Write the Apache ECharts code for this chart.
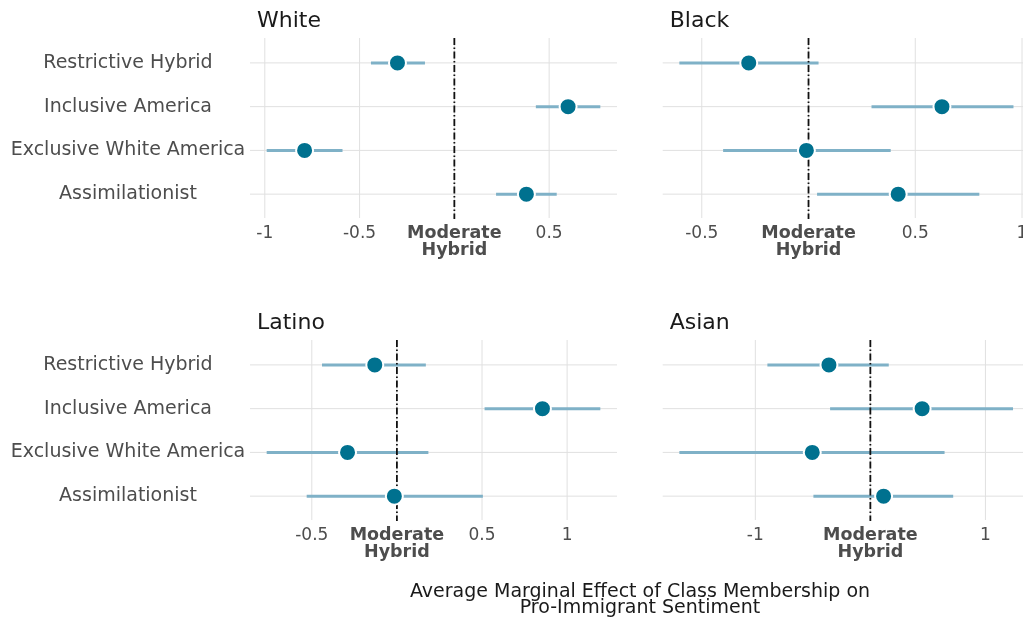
<!DOCTYPE html>
<html>
<head>
<meta charset="utf-8">
<script src="https://cdn.jsdelivr.net/npm/echarts@6/dist/echarts.min.js"></script>
<style>
  html, body { margin: 0; padding: 0; background: #ffffff; }
  #chart { width: 1023px; height: 621px; }
</style>
</head>
<body>
<div id="chart"></div>
<script>
// Class categories, listed bottom to top
const categories = ['Assimilationist', 'Exclusive White America', 'Inclusive America', 'Restrictive Hybrid'];

// Average marginal effects and confidence bounds, in category order
const whiteEst = [0.38, -0.79, 0.60, -0.30];
const whiteLo  = [0.22, -0.99, 0.43, -0.44];
const whiteHi  = [0.54, -0.59, 0.77, -0.155];

const blackEst = [0.42, -0.01, 0.625, -0.28];
const blackLo  = [0.04, -0.40, 0.295, -0.605];
const blackHi  = [0.80, 0.385, 0.96, 0.047];

const latinoEst = [-0.015, -0.29, 0.855, -0.13];
const latinoLo  = [-0.53, -0.765, 0.515, -0.44];
const latinoHi  = [0.505, 0.185, 1.195, 0.17];

const asianEst = [0.115, -0.505, 0.45, -0.36];
const asianLo  = [-0.495, -1.66, -0.35, -0.895];
const asianHi  = [0.72, 0.645, 1.24, 0.16];

// Tick labels per panel
const whiteTicks  = [-1, -0.5, 0, 0.5];
const blackTicks  = [-0.5, 0, 0.5, 1];
const latinoTicks = [-0.5, 0, 0.5, 1];
const asianTicks  = [-1, 0, 1];

const FONT = 'DejaVu Sans';
const POINT = '#00718f';
const BAND = '#7fb1c7';
const GRID = '#e0e0e0';

const panels = [
  { title: 'White',  est: whiteEst,  lo: whiteLo,  hi: whiteHi,  ticks: whiteTicks,  min: -1.078, max: 0.858,
    grid: { left: 250, top: 41, width: 367, height: 175 }, showY: true },
  { title: 'Black',  est: blackEst,  lo: blackLo,  hi: blackHi,  ticks: blackTicks,  min: -0.683, max: 1.036,
    grid: { left: 662.7, top: 41, width: 367, height: 175 }, showY: false },
  { title: 'Latino', est: latinoEst, lo: latinoLo, hi: latinoHi, ticks: latinoTicks, min: -0.863, max: 1.293,
    grid: { left: 250, top: 343, width: 367, height: 175 }, showY: true },
  { title: 'Asian',  est: asianEst,  lo: asianLo,  hi: asianHi,  ticks: asianTicks,  min: -1.805, max: 1.385,
    grid: { left: 662.7, top: 343, width: 367, height: 175 }, showY: false }
];

const grids = [], xAxes = [], yAxes = [], series = [], titles = [];

function tickValue(v) {
  return (v !== null && typeof v === 'object') ? Number(v.value) : Number(v);
}

panels.forEach((p, i) => {
  grids.push(Object.assign({ containLabel: false, outerBoundsMode: 'none' }, p.grid));

  titles.push({
    text: p.title,
    left: p.grid.left + 7,
    top: p.grid.top - 31,
    padding: 0,
    textStyle: { fontFamily: FONT, fontSize: 22, fontWeight: 'normal', color: '#1a1a1a' }
  });

  xAxes.push({
    type: 'value',
    gridIndex: i,
    position: 'bottom',
    min: p.min,
    max: p.max,
    axisLine: { show: false },
    axisTick: { show: false },
    splitLine: { show: false },
    axisLabel: {
      show: true,
      customValues: p.ticks,
      margin: 9,
      fontFamily: FONT,
      fontSize: 17,
      lineHeight: 17,
      color: '#4d4d4d',
      hideOverlap: false,
      formatter: function (raw) {
        const v = tickValue(raw);
        if (Math.abs(v) < 1e-9) return '{b|Moderate}\n{b|Hybrid}';
        return String(Math.round(v * 100) / 100);
      },
      rich: {
        b: { fontFamily: FONT, fontSize: 17.5, lineHeight: 17, fontWeight: 'bold', color: '#4d4d4d' }
      }
    }
  });

  yAxes.push({
    type: 'category',
    gridIndex: i,
    data: categories,
    axisLine: { show: false },
    axisTick: { show: false },
    splitLine: { show: false },
    axisLabel: {
      show: p.showY,
      align: 'center',
      margin: 122,
      fontFamily: FONT,
      fontSize: 19,
      color: '#4d4d4d'
    }
  });

  // Panel grid lines: [x, categoryIndex, kind] where kind 0 = vertical at a tick, 1 = horizontal at a category
  const gridItems = p.ticks.map(t => [t, 0, 0]).concat(categories.map((c, k) => [p.min, k, 1]));
  series.push({
    type: 'custom',
    xAxisIndex: i,
    yAxisIndex: i,
    z: 1,
    silent: true,
    animation: false,
    encode: { x: 0, y: 1 },
    data: gridItems,
    renderItem: function (params, api) {
      const cs = params.coordSys;
      const pt = api.coord([api.value(0), api.value(1)]);
      const shape = api.value(2) === 0
        ? { x1: pt[0], y1: cs.y - 3, x2: pt[0], y2: cs.y + cs.height + 2 }
        : { x1: cs.x, y1: pt[1], x2: cs.x + cs.width, y2: pt[1] };
      return { type: 'line', shape: shape, style: { stroke: GRID, lineWidth: 1 } };
    }
  });

  // Confidence intervals
  series.push({
    type: 'custom',
    xAxisIndex: i,
    yAxisIndex: i,
    z: 2,
    silent: true,
    animation: false,
    encode: { x: [0, 1], y: 2 },
    data: categories.map((c, k) => [p.lo[k], p.hi[k], k]),
    renderItem: function (params, api) {
      const y = api.value(2);
      const a = api.coord([api.value(0), y]);
      const b = api.coord([api.value(1), y]);
      return {
        type: 'line',
        shape: { x1: a[0], y1: a[1], x2: b[0], y2: b[1] },
        style: { stroke: BAND, lineWidth: 3 }
      };
    }
  });

  // Dot-dash reference line at zero (the Moderate Hybrid baseline)
  series.push({
    type: 'custom',
    xAxisIndex: i,
    yAxisIndex: i,
    z: 3,
    silent: true,
    animation: false,
    encode: { x: 0, y: 1 },
    data: [[0, 0]],
    renderItem: function (params, api) {
      const cs = params.coordSys;
      const pt = api.coord([api.value(0), api.value(1)]);
      return {
        type: 'line',
        shape: { x1: pt[0], y1: cs.y - 3, x2: pt[0], y2: cs.y + cs.height + 3 },
        style: { stroke: '#111111', lineWidth: 1.8, lineDash: [7, 2.5, 1.5, 2.5] }
      };
    }
  });

  // Point estimates
  series.push({
    type: 'scatter',
    xAxisIndex: i,
    yAxisIndex: i,
    z: 4,
    silent: true,
    animation: false,
    symbol: 'circle',
    symbolSize: 17,
    itemStyle: { color: POINT, borderColor: '#ffffff', borderWidth: 2, opacity: 1 },
    data: categories.map((c, k) => [p.est[k], k])
  });
});

const chart = echarts.init(document.getElementById('chart'), null, { renderer: 'canvas' });
chart.setOption({
  animation: false,
  backgroundColor: '#ffffff',
  title: titles,
  grid: grids,
  xAxis: xAxes,
  yAxis: yAxes,
  series: series,
  graphic: [{
    type: 'text',
    x: 640,
    y: 600,
    silent: true,
    style: {
      text: 'Average Marginal Effect of Class Membership on\nPro-Immigrant Sentiment',
      align: 'center',
      verticalAlign: 'middle',
      fontFamily: FONT,
      fontSize: 19,
      lineHeight: 16,
      fill: '#1a1a1a'
    }
  }]
});
</script>
</body>
</html>
